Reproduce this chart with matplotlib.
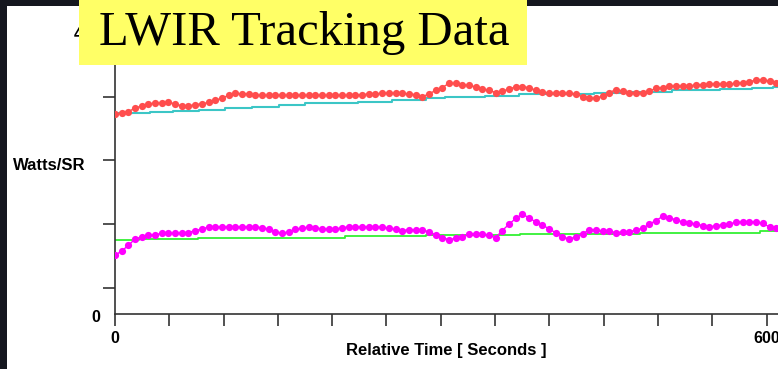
import numpy as np
import matplotlib
matplotlib.use("Agg")
import matplotlib.pyplot as plt
from matplotlib.patches import Rectangle
from matplotlib.transforms import offset_copy

# sample times (seconds) for the two dotted series
time_s = np.arange(100) * 6.15

# upper target (red dots), Watts/SR
red_vals = [2.82, 2.84, 2.86, 2.91, 2.94, 2.97, 2.98, 2.98, 2.99, 2.97,
            2.94, 2.94, 2.96, 2.97, 2.99, 3.02, 3.05, 3.09, 3.12, 3.11,
            3.11, 3.09, 3.09, 3.09, 3.09, 3.09, 3.09, 3.09, 3.09, 3.09,
            3.09, 3.09, 3.09, 3.09, 3.09, 3.09, 3.09, 3.10, 3.11, 3.11,
            3.12, 3.12, 3.12, 3.12, 3.11, 3.10, 3.07, 3.11, 3.16, 3.20,
            3.26, 3.26, 3.24, 3.23, 3.21, 3.18, 3.16, 3.13, 3.15, 3.18,
            3.21, 3.21, 3.20, 3.16, 3.14, 3.12, 3.12, 3.12, 3.12, 3.11,
            3.07, 3.05, 3.05, 3.08, 3.13, 3.17, 3.15, 3.13, 3.13, 3.13,
            3.15, 3.19, 3.20, 3.22, 3.22, 3.22, 3.22, 3.24, 3.24, 3.25,
            3.25, 3.25, 3.25, 3.26, 3.27, 3.28, 3.31, 3.31, 3.29, 3.27]

# lower target (magenta dots), Watts/SR
mag_vals = [0.83, 0.89, 0.97, 1.06, 1.09, 1.11, 1.12, 1.14, 1.14, 1.14,
            1.14, 1.15, 1.18, 1.20, 1.23, 1.23, 1.23, 1.23, 1.23, 1.23,
            1.23, 1.23, 1.22, 1.20, 1.16, 1.14, 1.16, 1.20, 1.21, 1.23,
            1.22, 1.20, 1.20, 1.20, 1.22, 1.23, 1.23, 1.23, 1.23, 1.23,
            1.23, 1.21, 1.20, 1.18, 1.19, 1.19, 1.19, 1.16, 1.12, 1.08,
            1.05, 1.07, 1.09, 1.13, 1.13, 1.13, 1.11, 1.08, 1.18, 1.27,
            1.35, 1.41, 1.36, 1.30, 1.26, 1.20, 1.15, 1.09, 1.06, 1.09,
            1.13, 1.19, 1.19, 1.17, 1.17, 1.15, 1.16, 1.16, 1.19, 1.21,
            1.27, 1.32, 1.38, 1.36, 1.33, 1.30, 1.29, 1.27, 1.25, 1.23,
            1.25, 1.26, 1.27, 1.30, 1.30, 1.30, 1.30, 1.28, 1.23, 1.22]

# baseline step lines
teal_t = [0, 32, 53, 77, 101, 126, 151, 175, 224, 255, 286, 304, 341, 372,
          441, 470, 513, 557, 587, 606]
teal_v = [2.84, 2.86, 2.87, 2.89, 2.91, 2.93, 2.95, 2.98, 3.00, 3.02, 3.05,
          3.06, 3.08, 3.11, 3.13, 3.14, 3.16, 3.18, 3.19, 3.21]
green_t = [0, 22, 76, 137, 212, 286, 373, 483, 594]
green_v = [1.04, 1.06, 1.07, 1.08, 1.10, 1.11, 1.13, 1.15, 1.17]

x_ticks = list(range(0, 601, 50))
x_ticklabels = ["0" if t == 0 else "600" if t == 600 else "" for t in x_ticks]
y_ticks = [0.37, 1.27, 2.17, 3.07, 3.97]
y_ticklabels = ["", "", "", "", "400"]

X_MAX = 610.5
Y_MAX = 4.155

W, H = 778, 369
fig = plt.figure(figsize=(W / 100, H / 100), dpi=100, facecolor="#15171f")
fig.add_artist(Rectangle((7 / W, 0), (W - 7) / W, (H - 6) / H,
                         transform=fig.transFigure, facecolor="white",
                         edgecolor="none", zorder=-5))

ax = fig.add_axes([115 / W, 55 / H, 663 / W, 294 / H])
ax.set_facecolor("none")

ax.step(teal_t + [X_MAX], teal_v + [teal_v[-1]], where="post",
        color="#3cc6c6", lw=1.5, zorder=2)
ax.step(green_t + [X_MAX], green_v + [green_v[-1]], where="post",
        color="#33f033", lw=1.3, zorder=2)
ax.plot(time_s, red_vals, color="#ff4d4d", lw=1, marker="o",
        markersize=5.2, markeredgewidth=0, zorder=3)
ax.plot(time_s, mag_vals, color="#ff00ff", lw=1, marker="o",
        markersize=5.2, markeredgewidth=0, zorder=3)

ax.set_xlim(0, X_MAX)
ax.set_ylim(0, Y_MAX)
for s in ["top", "right"]:
    ax.spines[s].set_visible(False)
for s in ["left", "bottom"]:
    ax.spines[s].set_color("#333333")
    ax.spines[s].set_linewidth(1.2)

ax.set_xticks(x_ticks)
ax.set_xticklabels(x_ticklabels)
ax.set_yticks(y_ticks)
ax.set_yticklabels(y_ticklabels)
ax.tick_params(direction="out", length=8.5, width=1.2, color="#333333",
               labelsize=11.5, labelcolor="black")
ax.tick_params(axis="x", pad=3.5)
ax.tick_params(axis="y", pad=2)
for lab in ax.get_xticklabels() + ax.get_yticklabels():
    lab.set_fontfamily("Liberation Sans")
    lab.set_fontweight("bold")

# "0" on the value axis sits just under the time axis
ax.text(-15 / 663, 0, "0", transform=offset_copy(ax.get_yaxis_transform(), fig=fig,
                                                 x=0, y=-4, units="dots"),
        ha="right", va="center", fontsize=11.5, fontweight="bold",
        family="Liberation Sans")

ax.set_xlabel("Relative Time [ Seconds ]", fontsize=12, fontweight="bold",
              family="Liberation Sans", labelpad=-2)
fig.text(13 / W, 1 - 165 / H, "Watts/SR", ha="left", va="center",
         fontsize=12, fontweight="bold", family="Liberation Sans")

# title box
fig.add_artist(Rectangle((79 / W, 1 - 65 / H), 448 / W, 65 / H,
                         transform=fig.transFigure, facecolor="#ffff66",
                         edgecolor="none", zorder=10))
fig.text(304 / W, 1 - 45 / H, "LWIR Tracking Data", ha="center",
         va="baseline", fontsize=35, family="Liberation Serif",
         color="black", zorder=11)

fig.savefig("out.png", dpi=100, facecolor=fig.get_facecolor())
